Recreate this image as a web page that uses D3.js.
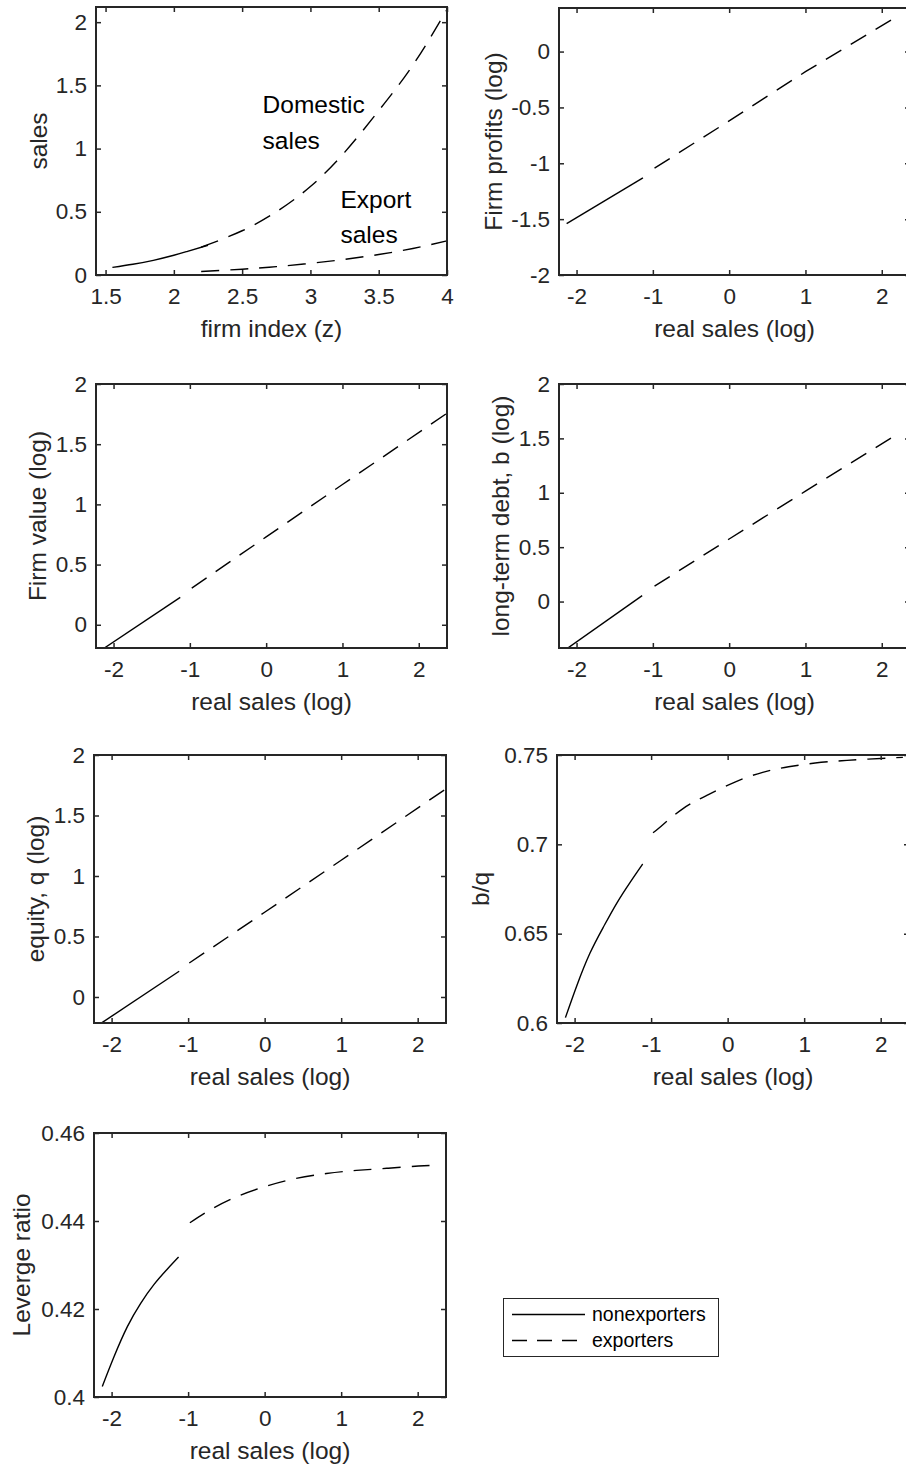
<!DOCTYPE html>
<html>
<head>
<meta charset="utf-8">
<script src="https://cdn.jsdelivr.net/npm/d3@7"></script>
<style>
  html, body { margin: 0; padding: 0; background: #fff; }
  svg { display: block; font-family: "Liberation Sans", Arial, Helvetica, sans-serif; }
</style>
</head>
<body>
<svg id="chart" width="906" height="1472"></svg>
<script>
// ---------------- DATA ----------------
// Panel 1: sales vs firm index (z)
const zNonexp       = [1.55, 1.70, 1.85, 2.00, 2.10, 2.25];
const domSalesNon   = [0.060, 0.085, 0.116, 0.156, 0.187, 0.235];
const zExp          = [2.20, 2.50, 2.75, 3.00, 3.25, 3.50, 3.75, 4.00];
const domSalesExp   = [0.220, 0.350, 0.500, 0.700, 0.970, 1.300, 1.660, 2.100];
const exportSales   = [0.028, 0.046, 0.066, 0.092, 0.124, 0.162, 0.210, 0.270];

// Panel 2: firm profits (log) vs real sales (log)
const profitsNonX = [-2.13, -1.13];
const profitsNonY = [-1.54, -1.13];
const profitsExpX = [-0.978, 0, 1, 2.24];
const profitsExpY = [-1.044, -0.62, -0.18, 0.33];

// Panel 3: firm value (log)
const valueNonX = [-2.13, -1.126];
const valueNonY = [-0.197, 0.227];
const valueExpX = [-0.975, 0, 1, 2.37];
const valueExpY = [0.305, 0.730, 1.165, 1.757];

// Panel 4: long-term debt b (log)
const debtNonX = [-2.13, -1.14];
const debtNonY = [-0.435, 0.055];
const debtExpX = [-0.978, 0, 1, 2.24];
const debtExpY = [0.141, 0.575, 1.015, 1.555];

// Panel 5: equity q (log)
const equityNonX = [-2.13, -1.117];
const equityNonY = [-0.214, 0.213];
const equityExpX = [-0.985, 0, 1, 2.38];
const equityExpY = [0.281, 0.700, 1.130, 1.725];

// Panel 6: b/q
const bqNonX = [-2.12, -1.97, -1.80, -1.62, -1.45, -1.27, -1.11];
const bqNonY = [0.603, 0.621, 0.639, 0.654, 0.667, 0.679, 0.689];
const bqExpX = [-0.975, -0.873, -0.583, -0.258, 0.103, 0.458, 0.796, 1.143, 1.49, 1.836, 2.29];
const bqExpY = [0.7065, 0.710, 0.720, 0.7277, 0.735, 0.7403, 0.7434, 0.7455, 0.7468, 0.7477, 0.7487];

// Panel 7: leverage ratio
const levNonX = [-2.122, -1.97, -1.794, -1.62, -1.445, -1.27, -1.125];
const levNonY = [0.4024, 0.4091, 0.4160, 0.4213, 0.4256, 0.4291, 0.4318];
const levExpX = [-0.977, -0.745, -0.396, 0, 0.391, 0.807, 1.2, 1.616, 2.01, 2.29];
const levExpY = [0.4396, 0.4422, 0.4453, 0.4478, 0.4496, 0.4508, 0.4515, 0.4520, 0.4525, 0.4527];

// Tick labels
const zTicks        = [1.5, 2, 2.5, 3, 3.5, 4];
const zTickLabels   = ["1.5", "2", "2.5", "3", "3.5", "4"];
const salesTicks    = [0, 0.5, 1, 1.5, 2];
const salesTickLabels = ["0", "0.5", "1", "1.5", "2"];
const rsTicks       = [-2, -1, 0, 1, 2];
const rsTickLabels  = ["-2", "-1", "0", "1", "2"];
const profTicks     = [-2, -1.5, -1, -0.5, 0];
const profTickLabels = ["-2", "-1.5", "-1", "-0.5", "0"];
const logTicks      = [0, 0.5, 1, 1.5, 2];
const logTickLabels = ["0", "0.5", "1", "1.5", "2"];
const bqTicks       = [0.6, 0.65, 0.7, 0.75];
const bqTickLabels  = ["0.6", "0.65", "0.7", "0.75"];
const levTicks      = [0.4, 0.42, 0.44, 0.46];
const levTickLabels = ["0.4", "0.42", "0.44", "0.46"];

const legendLabels = ["nonexporters", "exporters"];

// ---------------- DRAWING ----------------
const svg = d3.select("#chart");
const AX = "#262626";
const DASH = "18,11";
const TICKFS = 22.5, LABELFS = 24.5;
const RS_DOMAIN = [-2.23, 2.37];

function zip(xs, ys) { return xs.map((x, i) => [x, ys[i]]); }

let clipId = 0;
function panel(cfg) {
  const [L, T, R, B] = cfg.box;
  const x = d3.scaleLinear().domain(cfg.xdom).range([L, R]);
  const y = d3.scaleLinear().domain(cfg.ydom).range([B, T]);
  const g = svg.append("g");

  const id = "clip" + (clipId++);
  svg.append("clipPath").attr("id", id)
    .append("rect").attr("x", L).attr("y", T).attr("width", R - L).attr("height", B - T);

  const lines = g.append("g").attr("clip-path", `url(#${id})`);
  const curve = cfg.curved ? d3.curveNatural : d3.curveLinear;
  const lineGen = d3.line().x(d => x(d[0])).y(d => y(d[1])).curve(curve);
  cfg.series.forEach(s => {
    lines.append("path").datum(zip(s.x, s.y))
      .attr("d", lineGen)
      .attr("fill", "none")
      .attr("stroke", "#000")
      .attr("stroke-width", 1.4)
      .attr("stroke-dasharray", s.dashed ? DASH : null);
  });

  const tl = 5;
  const bottom = d3.axisBottom(x).tickValues(cfg.xticks).tickSize(-tl).tickPadding(13)
    .tickFormat((d, i) => cfg.xtickLabels[i]);
  const top = d3.axisTop(x).tickValues(cfg.xticks).tickSize(-tl).tickFormat("");
  const left = d3.axisLeft(y).tickValues(cfg.yticks).tickSize(-tl).tickPadding(9)
    .tickFormat((d, i) => cfg.ytickLabels[i]);
  const right = d3.axisRight(y).tickValues(cfg.yticks).tickSize(-tl).tickFormat("");

  const styleAxis = sel => {
    sel.select(".domain").remove();
    sel.selectAll(".tick line").attr("stroke", AX).attr("stroke-width", 1.5);
    sel.selectAll(".tick text").attr("fill", AX).style("font-size", TICKFS + "px")
      .style("font-family", '"Liberation Sans", Arial, sans-serif');
  };
  g.append("g").attr("transform", `translate(0,${B})`).call(bottom).call(styleAxis);
  g.append("g").attr("transform", `translate(0,${T})`).call(top).call(styleAxis);
  g.append("g").attr("transform", `translate(${L},0)`).call(left).call(styleAxis);
  g.append("g").attr("transform", `translate(${R},0)`).call(right).call(styleAxis);

  g.append("rect").attr("x", L).attr("y", T).attr("width", R - L).attr("height", B - T)
    .attr("fill", "none").attr("stroke", AX).attr("stroke-width", 2);

  g.append("text").attr("x", (L + R) / 2).attr("y", B + 62)
    .attr("text-anchor", "middle").attr("fill", AX).style("font-size", LABELFS + "px")
    .text(cfg.xlabel);
  const yc = (T + B) / 2, xb = L - cfg.ylabOff;
  g.append("text").attr("transform", `translate(${xb},${yc}) rotate(-90)`)
    .attr("text-anchor", "middle").attr("fill", AX).style("font-size", LABELFS + "px")
    .text(cfg.ylabel);
  return { g, x, y };
}

// Panel 1
const p1 = panel({
  box: [96, 7, 447, 275], xdom: [1.43, 4], ydom: [0, 2.12], curved: true,
  xticks: zTicks, xtickLabels: zTickLabels, yticks: salesTicks, ytickLabels: salesTickLabels,
  xlabel: "firm index (z)", ylabel: "sales", ylabOff: 49,
  series: [
    { x: zNonexp, y: domSalesNon, dashed: false },
    { x: zExp, y: domSalesExp, dashed: true },
    { x: zExp, y: exportSales, dashed: true }
  ]
});
[["Domestic", 2.65, 1.28], ["sales", 2.65, 1.0], ["Export", 3.22, 0.53], ["sales", 3.22, 0.25]]
  .forEach(([t, xv, yv]) => {
    p1.g.append("text").attr("x", p1.x(xv)).attr("y", p1.y(yv))
      .attr("fill", "#000").style("font-size", "24.5px").text(t);
  });

// Panel 2
panel({
  box: [559, 8, 910, 275], xdom: RS_DOMAIN, ydom: [-2, 0.39],
  xticks: rsTicks, xtickLabels: rsTickLabels, yticks: profTicks, ytickLabels: profTickLabels,
  xlabel: "real sales (log)", ylabel: "Firm profits (log)", ylabOff: 57,
  series: [
    { x: profitsNonX, y: profitsNonY, dashed: false },
    { x: profitsExpX, y: profitsExpY, dashed: true }
  ]
});

// Panel 3
panel({
  box: [96, 384, 447, 648], xdom: RS_DOMAIN, ydom: [-0.193, 2],
  xticks: rsTicks, xtickLabels: rsTickLabels, yticks: logTicks, ytickLabels: logTickLabels,
  xlabel: "real sales (log)", ylabel: "Firm value (log)", ylabOff: 50,
  series: [
    { x: valueNonX, y: valueNonY, dashed: false },
    { x: valueExpX, y: valueExpY, dashed: true }
  ]
});

// Panel 4
panel({
  box: [559, 384, 910, 648], xdom: RS_DOMAIN, ydom: [-0.427, 2],
  xticks: rsTicks, xtickLabels: rsTickLabels, yticks: logTicks, ytickLabels: logTickLabels,
  xlabel: "real sales (log)", ylabel: "long-term debt, b (log)", ylabOff: 50,
  series: [
    { x: debtNonX, y: debtNonY, dashed: false },
    { x: debtExpX, y: debtExpY, dashed: true }
  ]
});

// Panel 5
panel({
  box: [94, 755, 446, 1023], xdom: RS_DOMAIN, ydom: [-0.215, 2],
  xticks: rsTicks, xtickLabels: rsTickLabels, yticks: logTicks, ytickLabels: logTickLabels,
  xlabel: "real sales (log)", ylabel: "equity, q (log)", ylabOff: 50,
  series: [
    { x: equityNonX, y: equityNonY, dashed: false },
    { x: equityExpX, y: equityExpY, dashed: true }
  ]
});

// Panel 6
panel({
  box: [557, 755, 909, 1023], xdom: RS_DOMAIN, ydom: [0.6, 0.75], curved: true,
  xticks: rsTicks, xtickLabels: rsTickLabels, yticks: bqTicks, ytickLabels: bqTickLabels,
  xlabel: "real sales (log)", ylabel: "b/q", ylabOff: 68,
  series: [
    { x: bqNonX, y: bqNonY, dashed: false },
    { x: bqExpX, y: bqExpY, dashed: true }
  ]
});

// Panel 7
panel({
  box: [94, 1133, 446, 1397], xdom: RS_DOMAIN, ydom: [0.4, 0.46], curved: true,
  xticks: rsTicks, xtickLabels: rsTickLabels, yticks: levTicks, ytickLabels: levTickLabels,
  xlabel: "real sales (log)", ylabel: "Leverge ratio", ylabOff: 64,
  series: [
    { x: levNonX, y: levNonY, dashed: false },
    { x: levExpX, y: levExpY, dashed: true }
  ]
});

// Legend
const lg = svg.append("g");
lg.append("rect").attr("x", 503.5).attr("y", 1298.5).attr("width", 215).attr("height", 58)
  .attr("fill", "#fff").attr("stroke", AX).attr("stroke-width", 1);
legendLabels.forEach((t, i) => {
  const yy = 1314.5 + i * 26;
  lg.append("line").attr("x1", 512).attr("x2", 585).attr("y1", yy).attr("y2", yy)
    .attr("stroke", "#000").attr("stroke-width", 1.4)
    .attr("stroke-dasharray", i === 1 ? "15,10" : null);
  lg.append("text").attr("x", 592).attr("y", yy).attr("dy", "0.35em")
    .attr("fill", "#000").style("font-size", "19.5px").text(t);
});
</script>
</body>
</html>
